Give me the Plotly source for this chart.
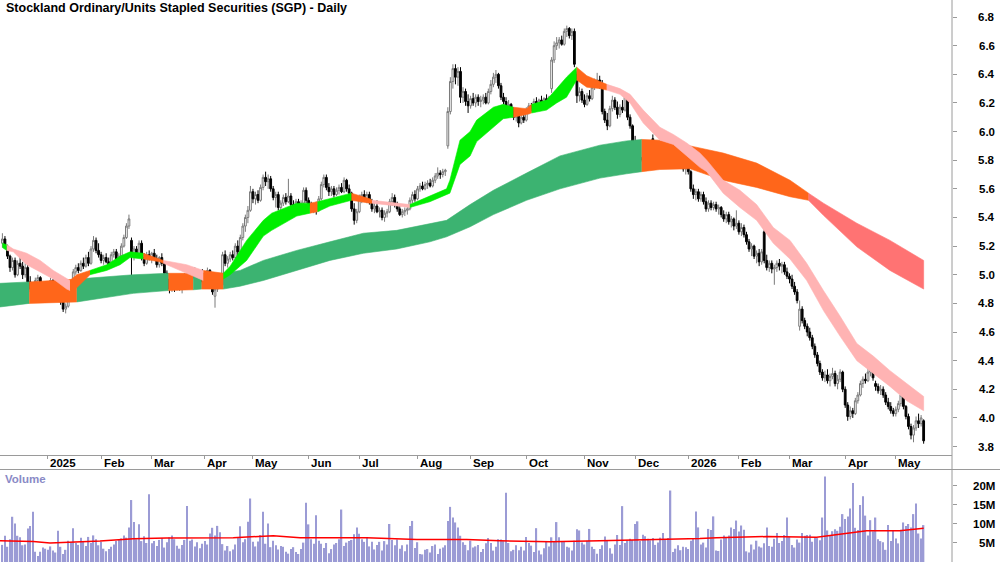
import pandas as pd
import plotly.graph_objects as go

TITLE = "Stockland Ordinary/Units Stapled Securities (SGP) - Daily"
FONT = "Liberation Sans Narrow, Arial Narrow, Liberation Sans, Arial, sans-serif"

# ASX trading calendar (non-trading weekdays removed)
holidays = ["2024-12-25", "2024-12-26", "2025-01-01", "2025-01-27", "2025-04-18",
            "2025-04-21", "2025-04-25", "2025-06-09", "2025-12-25", "2025-12-26",
            "2026-01-01", "2026-01-26", "2026-04-03", "2026-04-06"]

opens = [
 5.22,5.25,5.20,5.13,5.05,5.10,5.00,5.08,5.06,5.00,
 5.05,4.95,4.90,4.85,4.96,4.98,4.91,4.86,4.90,4.93,
 4.96,4.89,4.92,4.85,4.81,4.76,4.78,4.86,4.94,5.02,
 5.05,5.03,5.08,5.06,5.12,5.08,5.18,5.24,5.17,5.14,
 5.10,5.12,5.09,5.07,5.14,5.16,5.11,5.13,5.20,5.26,
 5.34,5.24,5.13,5.18,5.14,5.22,5.12,5.08,5.14,5.12,
 5.15,5.11,5.07,5.12,5.08,5.01,4.97,4.90,4.95,4.90,
 4.94,4.91,4.92,4.99,4.95,4.97,5.02,4.98,4.96,5.01,
 4.95,4.98,5.03,4.95,4.85,4.90,4.96,4.93,5.14,5.08,
 5.11,5.14,5.12,5.20,5.16,5.26,5.34,5.40,5.45,5.58,
 5.53,5.56,5.52,5.61,5.68,5.65,5.67,5.60,5.54,5.56,
 5.47,5.50,5.54,5.51,5.55,5.49,5.48,5.51,5.47,5.50,
 5.59,5.52,5.48,5.46,5.49,5.45,5.53,5.63,5.68,5.61,
 5.58,5.60,5.56,5.59,5.61,5.58,5.66,5.60,5.57,5.46,
 5.38,5.44,5.54,5.56,5.53,5.56,5.51,5.46,5.48,5.44,
 5.45,5.40,5.43,5.44,5.51,5.54,5.49,5.46,5.42,5.44,
 5.45,5.46,5.52,5.56,5.53,5.60,5.62,5.60,5.63,5.64,
 5.62,5.66,5.69,5.71,5.70,5.72,5.90,6.14,6.35,6.44,
 6.38,6.42,6.24,6.28,6.21,6.18,6.23,6.20,6.24,6.21,
 6.22,6.24,6.20,6.28,6.33,6.38,6.40,6.32,6.24,6.21,
 6.16,6.19,6.14,6.10,6.12,6.06,6.10,6.08,6.15,6.18,
 6.16,6.21,6.19,6.22,6.20,6.23,6.21,6.30,6.50,6.60,
 6.62,6.64,6.61,6.70,6.72,6.67,6.70,6.40,6.25,6.28,
 6.22,6.19,6.25,6.23,6.31,6.35,6.36,6.33,6.14,6.08,
 6.04,6.16,6.22,6.17,6.12,6.17,6.15,6.24,6.10,6.04,
 5.93,5.86,5.79,5.82,5.80,5.83,5.81,5.95,5.86,5.84,
 5.87,5.85,5.88,5.86,5.89,5.90,5.91,5.89,5.84,5.79,
 5.74,5.76,5.72,5.60,5.56,5.58,5.53,5.56,5.51,5.46,
 5.50,5.47,5.49,5.46,5.47,5.42,5.39,5.42,5.37,5.39,
 5.34,5.36,5.30,5.33,5.28,5.23,5.18,5.20,5.13,5.15,
 5.09,5.30,5.10,5.05,5.08,5.04,5.05,5.08,5.06,5.07,
 5.02,4.99,4.97,4.92,4.88,4.64,4.76,4.68,4.64,4.60,
 4.56,4.50,4.44,4.38,4.32,4.28,4.30,4.26,4.29,4.31,
 4.24,4.27,4.32,4.20,4.09,4.01,4.05,4.03,4.12,4.16,
 4.24,4.27,4.26,4.32,4.34,4.24,4.22,4.19,4.20,4.16,
 4.11,4.08,4.05,4.03,4.06,4.10,4.16,4.08,4.01,3.94,
 3.88,3.93,3.98,3.96,3.98]

highs = [
 5.29,5.27,5.21,5.14,5.12,5.12,5.10,5.13,5.09,5.08,
 5.07,4.99,4.93,4.98,5.00,4.99,4.93,4.92,4.95,4.98,
 4.97,4.94,4.93,4.86,4.82,4.80,4.88,4.96,5.04,5.07,
 5.08,5.10,5.12,5.14,5.16,5.20,5.27,5.26,5.22,5.16,
 5.14,5.15,5.12,5.16,5.18,5.18,5.15,5.22,5.28,5.36,
 5.42,5.26,5.20,5.20,5.24,5.24,5.15,5.16,5.17,5.16,
 5.18,5.14,5.13,5.15,5.09,5.03,5.00,4.97,4.97,4.96,
 4.98,4.94,5.01,5.02,4.99,5.04,5.05,5.03,5.02,5.04,
 5.00,5.05,5.04,4.97,4.92,4.98,5.00,5.16,5.17,5.13,
 5.16,5.17,5.22,5.24,5.28,5.36,5.42,5.48,5.62,5.60,
 5.58,5.59,5.63,5.70,5.72,5.70,5.69,5.62,5.58,5.58,
 5.52,5.56,5.57,5.67,5.57,5.52,5.53,5.53,5.52,5.61,
 5.61,5.54,5.51,5.50,5.51,5.55,5.65,5.70,5.70,5.64,
 5.62,5.62,5.61,5.63,5.64,5.68,5.67,5.63,5.58,5.50,
 5.46,5.56,5.58,5.59,5.58,5.58,5.53,5.50,5.52,5.47,
 5.47,5.45,5.46,5.53,5.57,5.56,5.51,5.48,5.46,5.47,
 5.48,5.54,5.58,5.59,5.62,5.64,5.65,5.65,5.66,5.67,
 5.68,5.71,5.75,5.73,5.74,5.74,6.17,6.38,6.47,6.47,
 6.45,6.45,6.31,6.30,6.26,6.25,6.27,6.26,6.26,6.25,
 6.26,6.27,6.30,6.36,6.41,6.43,6.41,6.34,6.27,6.24,
 6.22,6.20,6.17,6.15,6.14,6.12,6.13,6.17,6.20,6.20,
 6.23,6.24,6.23,6.25,6.24,6.26,6.25,6.52,6.63,6.66,
 6.66,6.67,6.72,6.74,6.73,6.72,6.72,6.42,6.31,6.30,
 6.26,6.27,6.29,6.33,6.37,6.41,6.39,6.36,6.16,6.13,
 6.18,6.25,6.24,6.21,6.19,6.22,6.27,6.25,6.12,6.05,
 5.97,5.90,5.85,5.86,5.84,5.87,5.86,5.98,5.89,5.88,
 5.90,5.89,5.91,5.90,5.92,5.93,5.94,5.91,5.86,5.81,
 5.78,5.78,5.73,5.63,5.60,5.60,5.58,5.58,5.54,5.52,
 5.52,5.51,5.51,5.49,5.48,5.45,5.44,5.44,5.41,5.40,
 5.45,5.38,5.36,5.35,5.30,5.25,5.22,5.21,5.17,5.18,
 5.18,5.36,5.14,5.10,5.10,5.07,5.10,5.11,5.09,5.09,
 5.05,5.01,5.00,4.95,4.90,4.82,4.78,4.70,4.66,4.63,
 4.58,4.52,4.46,4.40,4.34,4.33,4.34,4.31,4.35,4.33,
 4.30,4.34,4.33,4.22,4.11,4.08,4.07,4.14,4.18,4.26,
 4.29,4.31,4.35,4.39,4.36,4.26,4.24,4.23,4.22,4.18,
 4.14,4.11,4.07,4.08,4.12,4.19,4.17,4.09,4.03,3.96,
 3.95,4.01,4.03,4.02,3.99]

lows = [
 5.19,5.19,5.11,5.02,5.03,4.98,4.99,5.04,4.97,4.98,
 4.93,4.88,4.82,4.84,4.93,4.89,4.84,4.84,4.87,4.90,
 4.88,4.86,4.84,4.79,4.74,4.73,4.77,4.85,4.93,5.00,
 5.01,5.02,5.04,5.05,5.06,5.07,5.16,5.15,5.12,5.08,
 5.07,5.08,5.05,5.06,5.12,5.09,5.09,5.12,5.19,5.25,
 5.32,4.90,5.10,5.12,5.12,5.10,5.06,5.07,5.10,5.08,
 5.10,5.05,5.05,5.06,4.99,4.95,4.87,4.88,4.88,4.89,
 4.89,4.87,4.91,4.93,4.90,4.96,4.96,4.94,4.95,4.93,
 4.92,4.97,4.93,4.86,4.77,4.88,4.91,4.92,5.06,5.05,
 5.09,5.10,5.11,5.13,5.14,5.24,5.30,5.36,5.44,5.50,
 5.49,5.50,5.51,5.59,5.62,5.60,5.58,5.52,5.47,5.45,
 5.44,5.48,5.49,5.50,5.47,5.46,5.46,5.46,5.45,5.49,
 5.50,5.46,5.44,5.43,5.42,5.44,5.52,5.61,5.59,5.55,
 5.55,5.54,5.55,5.56,5.57,5.57,5.58,5.55,5.44,5.35,
 5.36,5.43,5.50,5.51,5.50,5.49,5.44,5.43,5.43,5.40,
 5.38,5.37,5.40,5.43,5.48,5.47,5.44,5.41,5.40,5.41,
 5.42,5.45,5.50,5.51,5.52,5.58,5.59,5.59,5.60,5.61,
 5.61,5.64,5.67,5.67,5.68,5.69,5.88,6.12,6.30,6.33,
 6.32,6.20,6.20,6.18,6.13,6.16,6.18,6.17,6.18,6.17,
 6.19,6.19,6.19,6.26,6.31,6.34,6.30,6.22,6.19,6.14,
 6.14,6.12,6.08,6.07,6.03,6.05,6.06,6.07,6.12,6.14,
 6.15,6.17,6.17,6.18,6.17,6.19,6.18,6.27,6.48,6.57,
 6.58,6.60,6.60,6.66,6.65,6.64,6.45,6.20,6.21,6.20,
 6.17,6.18,6.21,6.22,6.29,6.32,6.30,6.12,6.06,6.01,
 6.03,6.14,6.15,6.09,6.10,6.13,6.14,6.08,6.02,5.90,
 5.82,5.75,5.77,5.78,5.77,5.79,5.79,5.84,5.81,5.80,
 5.83,5.82,5.84,5.83,5.85,5.87,5.87,5.82,5.77,5.72,
 5.70,5.70,5.58,5.53,5.52,5.51,5.51,5.49,5.44,5.44,
 5.45,5.45,5.44,5.42,5.40,5.37,5.36,5.35,5.33,5.31,
 5.32,5.28,5.27,5.26,5.21,5.16,5.13,5.11,5.08,5.06,
 5.07,5.08,5.03,5.02,5.01,4.93,5.02,5.03,5.01,5.00,
 4.97,4.94,4.90,4.86,4.80,4.61,4.66,4.62,4.57,4.54,
 4.48,4.42,4.36,4.30,4.26,4.25,4.24,4.22,4.27,4.22,
 4.20,4.25,4.18,4.07,3.98,3.99,4.00,4.02,4.10,4.15,
 4.21,4.24,4.25,4.29,4.26,4.19,4.17,4.16,4.14,4.09,
 4.06,4.03,4.01,4.01,4.04,4.08,4.06,3.99,3.92,3.85,
 3.83,3.91,3.93,3.94,3.82]

closes = [
 5.25,5.20,5.13,5.05,5.10,5.00,5.08,5.06,5.00,5.05,
 4.95,4.90,4.85,4.96,4.98,4.91,4.86,4.90,4.93,4.96,
 4.89,4.92,4.85,4.81,4.76,4.78,4.86,4.94,5.02,5.05,
 5.03,5.08,5.06,5.12,5.08,5.18,5.24,5.17,5.14,5.10,
 5.12,5.09,5.07,5.14,5.16,5.11,5.13,5.20,5.26,5.34,
 5.39,5.13,5.18,5.14,5.22,5.12,5.08,5.14,5.12,5.15,
 5.11,5.07,5.12,5.08,5.01,4.97,4.90,4.95,4.90,4.94,
 4.91,4.92,4.99,4.95,4.97,5.02,4.98,4.96,5.01,4.95,
 4.98,5.03,4.95,4.88,4.90,4.96,4.93,5.14,5.08,5.11,
 5.14,5.12,5.20,5.16,5.26,5.34,5.40,5.45,5.58,5.53,
 5.56,5.52,5.61,5.68,5.65,5.67,5.60,5.54,5.56,5.47,
 5.50,5.54,5.51,5.55,5.49,5.48,5.51,5.47,5.50,5.59,
 5.52,5.48,5.46,5.49,5.45,5.53,5.63,5.68,5.61,5.58,
 5.60,5.56,5.59,5.61,5.58,5.66,5.60,5.57,5.46,5.38,
 5.44,5.54,5.56,5.53,5.56,5.51,5.46,5.48,5.44,5.45,
 5.40,5.43,5.44,5.51,5.54,5.49,5.46,5.42,5.44,5.45,
 5.46,5.52,5.56,5.53,5.60,5.62,5.60,5.63,5.64,5.62,
 5.66,5.69,5.71,5.70,5.72,5.73,6.14,6.35,6.44,6.38,
 6.42,6.24,6.28,6.21,6.18,6.23,6.20,6.24,6.21,6.22,
 6.24,6.20,6.28,6.33,6.38,6.40,6.32,6.24,6.21,6.16,
 6.19,6.14,6.10,6.12,6.06,6.10,6.08,6.15,6.18,6.16,
 6.21,6.19,6.22,6.20,6.23,6.21,6.24,6.50,6.60,6.62,
 6.64,6.61,6.70,6.72,6.67,6.70,6.47,6.25,6.28,6.22,
 6.19,6.25,6.23,6.31,6.35,6.36,6.33,6.14,6.08,6.04,
 6.16,6.22,6.17,6.12,6.17,6.15,6.24,6.10,6.04,5.93,
 5.86,5.79,5.82,5.80,5.83,5.81,5.85,5.86,5.84,5.87,
 5.85,5.88,5.86,5.89,5.90,5.91,5.89,5.84,5.79,5.74,
 5.76,5.72,5.60,5.56,5.58,5.53,5.56,5.51,5.46,5.50,
 5.47,5.49,5.46,5.47,5.42,5.39,5.42,5.37,5.39,5.34,
 5.36,5.30,5.33,5.28,5.23,5.18,5.20,5.13,5.15,5.09,
 5.16,5.10,5.05,5.08,5.04,5.05,5.08,5.06,5.07,5.02,
 4.99,4.97,4.92,4.88,4.82,4.76,4.68,4.64,4.60,4.56,
 4.50,4.44,4.38,4.32,4.28,4.30,4.26,4.29,4.31,4.24,
 4.27,4.32,4.20,4.09,4.01,4.05,4.03,4.12,4.16,4.24,
 4.27,4.26,4.32,4.34,4.28,4.22,4.19,4.20,4.16,4.11,
 4.08,4.05,4.03,4.06,4.10,4.16,4.08,4.01,3.94,3.88,
 3.93,3.98,3.96,4.00,3.84]

volume_m = [
 4.5,6.9,4.0,6.0,11.9,10.1,6.9,6.5,4.4,4.6,
 8.8,9.5,13.2,2.7,1.6,2.7,3.8,3.5,3.2,4.1,
 3.0,2.5,8.2,4.0,2.1,3.2,5.6,5.2,8.9,5.0,
 4.5,6.4,5.5,4.2,6.6,5.0,7.0,6.0,4.4,5.3,
 3.5,2.8,3.4,4.0,4.6,5.5,5.8,6.2,7.0,6.4,
 9.1,16.3,10.5,6.0,9.9,5.5,6.8,5.0,17.8,4.9,
 5.5,4.2,5.8,6.3,3.8,5.2,6.5,7.0,6.0,4.3,
 3.5,4.5,5.8,14.7,5.6,5.9,4.1,5.2,3.6,4.8,
 5.5,4.6,7.5,9.0,7.0,9.5,7.8,4.7,3.0,4.2,
 2.8,3.3,4.6,6.4,9.4,5.2,6.0,10.6,16.7,5.3,
 4.1,5.4,7.1,13.2,4.8,10.1,3.9,5.6,4.4,3.3,
 4.2,4.0,2.7,2.2,3.4,3.9,2.6,2.1,3.4,5.1,
 15.6,9.9,6.0,4.8,12.3,5.6,4.8,3.7,5.0,2.3,
 3.4,4.6,5.0,6.0,13.8,4.2,5.1,5.5,5.8,7.3,
 9.1,7.4,6.0,5.3,6.3,4.1,5.3,3.3,4.5,5.3,
 3.0,5.5,4.6,10.0,5.8,4.4,5.9,3.5,4.4,2.8,
 4.6,9.5,10.8,3.7,5.2,2.1,2.0,3.2,3.4,2.5,
 4.2,4.6,2.1,3.5,3.8,4.4,10.8,14.5,11.7,10.4,
 9.1,6.9,5.2,4.5,3.1,5.6,3.8,4.1,4.5,2.6,
 3.4,4.9,6.3,5.0,3.0,4.0,6.0,5.9,5.5,18.2,
 5.0,2.8,3.2,4.4,3.1,4.0,3.0,6.6,5.0,4.3,
 2.6,8.9,3.0,2.0,3.6,5.3,4.1,6.5,5.5,10.5,
 6.5,5.5,5.3,4.0,3.8,3.0,5.6,8.6,8.3,5.1,
 4.6,5.6,8.7,4.0,3.4,2.2,3.4,4.4,6.7,5.5,
 3.6,2.2,4.6,7.1,4.5,14.7,5.0,5.7,6.1,5.8,
 10.0,10.7,5.5,7.2,6.8,6.1,5.7,6.3,4.5,5.1,
 6.4,7.6,5.9,6.3,18.8,2.6,3.5,4.4,3.1,4.0,
 3.9,3.4,5.6,6.2,13.3,9.1,4.6,5.1,3.8,8.7,
 8.4,12.0,3.0,2.9,5.9,7.0,6.4,7.0,9.1,8.7,
 10.9,8.0,9.6,8.5,2.8,2.5,4.6,3.3,5.6,4.1,
 3.8,4.9,9.1,4.2,4.0,6.1,7.6,5.0,5.5,7.1,
 11.7,6.7,4.5,3.8,5.9,5.1,7.6,6.9,7.1,7.2,
 5.3,6.5,6.3,5.7,11.7,22.5,8.3,7.0,8.1,8.6,
 8.2,9.3,12.6,11.3,12.0,14.1,20.8,9.0,8.4,15.0,
 17.3,12.2,7.0,11.0,8.1,11.7,6.0,5.5,5.2,3.2,
 9.7,5.5,8.3,6.2,4.9,8.5,10.4,9.5,10.0,9.1,
 12.6,15.4,7.5,6.2,9.7]

# Short-term ribbon (read at knots): position in trading days, upper, lower, state
short_idx = [0, 1.7, 4.3, 9.6, 14.9, 20.1, 25.4, 26.7, 29.4, 34.6, 41.2, 46.5, 50.4,
             55.7, 62.3, 63.6, 72.8, 79.4, 87.3, 90, 96.5, 103.1, 106.4, 116.3, 121.5,
             124.5, 129.4, 137.9, 145.2, 146, 155.8, 161, 165, 168.9, 175.5, 176.8,
             180.8, 184.8, 187.4, 194, 197.9, 201.9, 207.1, 209.1, 215, 219, 222.9,
             226.9, 230.9, 236.1, 238.8, 244, 248, 253.2, 259.8, 265.1, 270.4, 275.6,
             278.3, 284.8, 291.4, 298, 304.6, 311.2, 317.8, 324.4, 331, 337.6, 344.2,
             350.7, 357.3, 364]
short_hi = [5.22, 5.21, 5.18, 5.15, 5.10, 5.03, 4.97, 4.96, 5.00, 5.03, 5.07, 5.13, 5.16,
            5.15, 5.11, 5.10, 5.07, 5.03, 5.01, 5.06, 5.24, 5.38, 5.43, 5.50, 5.50,
            5.51, 5.53, 5.57, 5.53, 5.52, 5.50, 5.49, 5.52, 5.55, 5.60, 5.66,
            5.94, 6.00, 6.08, 6.17, 6.19, 6.17, 6.16, 6.19, 6.22, 6.30, 6.38,
            6.45, 6.39, 6.35, 6.33, 6.30, 6.26, 6.15, 6.03, 5.98, 5.92, 5.85,
            5.80, 5.66, 5.59, 5.49, 5.33, 5.24, 5.08, 4.89, 4.71, 4.52, 4.43,
            4.33, 4.24, 4.15]
short_lo = [5.19, 5.17, 5.16, 5.07, 5.02, 4.97, 4.90, 4.89, 4.91, 5.00, 5.03, 5.07, 5.12,
            5.11, 5.09, 5.08, 5.01, 4.96, 4.97, 5.00, 5.10, 5.27, 5.31, 5.41, 5.43,
            5.44, 5.48, 5.52, 5.50, 5.50, 5.48, 5.47, 5.49, 5.51, 5.56, 5.57,
            5.77, 5.83, 5.93, 6.03, 6.09, 6.10, 6.12, 6.13, 6.15, 6.20, 6.24,
            6.36, 6.31, 6.30, 6.29, 6.26, 6.20, 6.06, 5.94, 5.91, 5.83, 5.75,
            5.72, 5.57, 5.47, 5.38, 5.22, 5.11, 4.96, 4.75, 4.57, 4.40, 4.31,
            4.22, 4.12, 4.05]
short_state = ["G", "P", "P", "P", "P", "P", "P", "O", "O", "G", "G", "G", "G",
               "O", "O", "P", "P", "O", "G", "G", "G", "G", "G", "G", "O",
               "G", "G", "O", "O", "P", "P", "G", "G", "G", "G", "G",
               "G", "G", "G", "G", "G", "O", "O", "G", "G", "G", "G",
               "O", "O", "O", "P", "P", "P", "P", "P", "P", "P", "P",
               "P", "P", "P", "P", "P", "P", "P", "P", "P", "P", "P",
               "P", "P", "P"]

# Long-term ribbon
long_idx = [-0.95, 10.6, 29.4, 51.7, 65.6, 75.4, 78.7, 87.3, 93.9, 103.1, 116.3, 129.4,
            142.6, 155.8, 168.9, 175.5, 184.8, 194, 207.1, 220.3, 236.1, 246.6, 252.6,
            259.8, 271.7, 284.8, 298, 311.2, 318.5, 324.4, 337.6, 350.7, 364]
long_hi = [4.94, 4.95, 4.97, 5.00, 5.01, 5.01, 5.01, 5.01, 5.03, 5.10, 5.17, 5.23,
           5.29, 5.31, 5.36, 5.38, 5.49, 5.59, 5.71, 5.83, 5.905, 5.935, 5.945,
           5.94, 5.90, 5.85, 5.78, 5.66, 5.57, 5.50, 5.36, 5.24, 5.10]
long_lo = [4.775, 4.80, 4.81, 4.87, 4.89, 4.895, 4.90, 4.90, 4.92, 4.96, 5.03, 5.10,
           5.15, 5.18, 5.23, 5.265, 5.335, 5.42, 5.52, 5.60, 5.675, 5.705, 5.72,
           5.735, 5.74, 5.66, 5.61, 5.545, 5.52, 5.415, 5.195, 5.03, 4.90]
long_state = ["G", "O", "G", "G", "O", "G", "O", "G", "G", "G", "G", "G",
              "G", "G", "G", "G", "G", "G", "G", "G", "G", "G", "O",
              "O", "O", "O", "O", "O", "R", "R", "R", "R", "R"]

# Volume moving average (read at knots, millions)
volma_idx = [-0.95, 12.2, 18.8, 38.6, 51.7, 64.9, 91.2, 107, 117.6, 143.9, 163.7, 183.4,
             196.6, 216.4, 236.1, 262.5, 275.6, 282.2, 302, 321.7, 334.9, 341.5, 354.6, 364]
volma_val = [5.6, 5.4, 5.0, 5.5, 6.1, 6.3, 6.4, 6.9, 6.4, 6.4, 5.9, 5.9,
             5.6, 5.3, 5.6, 5.9, 6.2, 6.4, 6.7, 6.5, 7.6, 8.2, 8.2, 8.9]

price_ticks = [3.8, 4.0, 4.2, 4.4, 4.6, 4.8, 5.0, 5.2, 5.4, 5.6, 5.8, 6.0, 6.2, 6.4, 6.6, 6.8]
vol_ticks = [5, 10, 15, 20]
vol_tick_labels = ["5M", "10M", "15M", "20M"]
month_names = ["Jan", "Feb", "Mar", "Apr", "May", "Jun", "Jul", "Aug", "Sep", "Oct", "Nov", "Dec"]

SHORT_COLORS = {"G": "#00ee00", "O": "#ff661a", "P": "#ffb3b3"}
LONG_COLORS = {"G": "#3cb371", "O": "#ff661a", "R": "#ff7373"}

# ---------------------------------------------------------------
dates = [d for d in pd.bdate_range("2024-12-04", "2026-05-31")
         if d.strftime("%Y-%m-%d") not in holidays]
n = len(closes)
dates = dates[:n]
xs = list(range(n))

month_idx, month_txt = [], []
for i in range(1, n):
    if dates[i].month != dates[i - 1].month:
        month_idx.append(i)
        m = dates[i].month
        month_txt.append(str(dates[i].year) if m == 1 else month_names[m - 1])

fig = go.Figure()


def add_band(xk, hi, lo, states, colors):
    k = len(xk)
    i = 0
    while i < k - 1:
        s = states[i]
        j = i
        while j < k - 1 and states[j] == s:
            j += 1
        px = list(xk[i:j + 1]) + list(xk[i:j + 1])[::-1]
        py = list(hi[i:j + 1]) + list(lo[i:j + 1])[::-1]
        fig.add_trace(go.Scatter(x=px, y=py, mode="lines", fill="toself",
                                 fillcolor=colors[s], line=dict(color=colors[s], width=0.6),
                                 hoverinfo="skip", showlegend=False, xaxis="x", yaxis="y"))
        i = j


add_band(long_idx, long_hi, long_lo, long_state, LONG_COLORS)
add_band(short_idx, short_hi, short_lo, short_state, SHORT_COLORS)

fig.add_trace(go.Candlestick(
    x=xs, open=opens, high=highs, low=lows, close=closes,
    increasing=dict(line=dict(color="#7a7a7a", width=1), fillcolor="#ffffff"),
    decreasing=dict(line=dict(color="#000000", width=1), fillcolor="#000000"),
    whiskerwidth=0, hoverinfo="skip", showlegend=False, xaxis="x", yaxis="y"))

fig.add_trace(go.Bar(x=xs, y=volume_m, marker=dict(color="#9b9bd5", line=dict(width=0)),
                     hoverinfo="skip", showlegend=False, xaxis="x2", yaxis="y2"))
fig.add_trace(go.Scatter(x=volma_idx, y=volma_val, mode="lines",
                         line=dict(color="#ff0000", width=1.5),
                         hoverinfo="skip", showlegend=False, xaxis="x2", yaxis="y2"))

W, H = 1000, 562
PW = 952
xr = [-0.95, 375.2]
AX = "#9a9a9a"

fig.update_layout(
    width=W, height=H, margin=dict(l=0, r=W - PW, t=0, b=0),
    paper_bgcolor="white", plot_bgcolor="white", showlegend=False,
    bargap=0.45, boxgap=0.3, boxgroupgap=0, hovermode=False,
    font=dict(family=FONT, size=11, color="#000000"),
    xaxis=dict(domain=[0, 1], range=xr, anchor="y", tickvals=month_idx, ticks="outside",
               ticklen=3, tickcolor=AX, showticklabels=False, showline=True, linecolor=AX,
               showgrid=False, zeroline=False, rangeslider=dict(visible=False)),
    yaxis=dict(domain=[1 - 455 / H, 1], range=[3.741, 6.919], side="right", anchor="x",
               tickvals=price_ticks, ticks="outside", ticklen=4, tickcolor=AX,
               showticklabels=False, showgrid=False, zeroline=False, showline=False),
    xaxis2=dict(domain=[0, 1], range=xr, anchor="y2", visible=False),
    yaxis2=dict(domain=[0, 92 / H], range=[0, 24.2], side="right", anchor="x2",
                tickvals=vol_ticks, ticks="outside", ticklen=4, tickcolor=AX,
                showticklabels=False, showgrid=False, zeroline=False, showline=False),
)

shapes = [
    dict(type="line", xref="paper", yref="paper", x0=1, x1=1, y0=0, y1=1,
         line=dict(color=AX, width=1)),
    dict(type="line", xref="paper", yref="paper", x0=0, x1=W / PW, y0=1 - 469.5 / H,
         y1=1 - 469.5 / H, line=dict(color=AX, width=1)),
]
fig.update_layout(shapes=shapes)

ann = []
ann.append(dict(text=TITLE, xref="paper", yref="paper", x=4 / PW, y=1 - 8.5 / H,
                xanchor="left", yanchor="middle", showarrow=False,
                font=dict(family=FONT, size=12.5, color="#000000", weight="bold")))
for i, t in zip(month_idx, month_txt):
    ann.append(dict(text=t, xref="x", yref="paper", x=i, y=1 - 462.5 / H, xshift=0.5,
                    xanchor="left", yanchor="middle", showarrow=False,
                    font=dict(family=FONT, size=11.5, color="#000000", weight="bold")))
for p in price_ticks:
    ann.append(dict(text=f"{p:.1f}", xref="paper", yref="y", x=997 / PW, y=p,
                    xanchor="right", yanchor="middle", showarrow=False,
                    font=dict(family=FONT, size=11.5, color="#000000", weight="bold")))
for v, t in zip(vol_ticks, vol_tick_labels):
    ann.append(dict(text=t, xref="paper", yref="y2", x=997 / PW, y=v,
                    xanchor="right", yanchor="middle", showarrow=False,
                    font=dict(family=FONT, size=11.5, color="#000000", weight="bold")))
ann.append(dict(text="Volume", xref="paper", yref="paper", x=3 / PW, y=1 - 478.5 / H,
                xanchor="left", yanchor="middle", showarrow=False,
                font=dict(family=FONT, size=11.5, color="#8a8ac6", weight="bold")))
fig.update_layout(annotations=ann)

fig.write_html("out.html")
